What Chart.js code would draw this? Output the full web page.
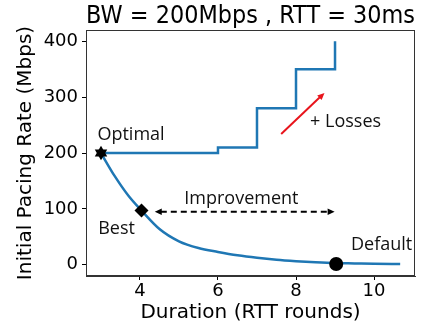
<!DOCTYPE html>
<html><head><meta charset="utf-8">
<script src="https://cdn.jsdelivr.net/npm/chart.js@4"></script>
<style>html,body{margin:0;padding:0;background:#fff}#wrap{width:432px;height:327px}</style>
</head><body><div id="wrap"><canvas id="c" width="432" height="327"></canvas></div>
<script>
// ---- data ----
const stepX = [3, 6, 7, 8, 9];
const stepY = [200, 210, 280, 350, 400];
const curveX = [3, 3.35, 3.7, 4.04, 4.5, 5, 5.5, 6, 6.5, 7, 7.5, 8, 8.5, 9, 9.5, 10, 10.67];
const curveY = [200, 159, 124, 97, 64, 42, 30, 23, 17, 12.5, 9, 6.5, 4.5, 3, 2.5, 2, 1.5];
const optimalPt = [3, 200];
const bestPt = [4.04, 97];
const defaultPt = [9.03, 1.5];
const xTicks = [4, 6, 8, 10];
const yTicks = [0, 100, 200, 300, 400];
const xRange = [2.617, 11.05];
const yRange = [-20, 420];
const noteText = ['Optimal', 'Best', 'Default', 'Improvement', '+ Losses'];
const noteX = [2.91, 2.93, 9.41, 6.6, 9.27];
const noteY = [224, 55.6, 25.7, 108, 246];
const noteAlign = ['left', 'left', 'left', 'center', 'center'];
const improveArrow = [[4.38, 95], [8.99, 95]];
const lossArrow = [[7.62, 234], [8.73, 307.5]];

const pts = (xs, ys) => xs.map((x, i) => ({x, y: ys[i]}));

// hexagram marker
const star = document.createElement('canvas');
star.width = 18; star.height = 18;
(function(){
  const g = star.getContext('2d');
  g.fillStyle = '#000';
  const cx = 9, cy = 9, r = 7.2;
  for (const off of [-Math.PI/2, Math.PI/2]) {
    g.beginPath();
    for (let k = 0; k < 3; k++) {
      const a = off + k * 2 * Math.PI / 3;
      const px = cx + r * Math.cos(a), py = cy + r * Math.sin(a);
      k ? g.lineTo(px, py) : g.moveTo(px, py);
    }
    g.closePath(); g.fill();
  }
})();

function arrowHead(ctx, x1, y1, x2, y2, len, w) {
  const a = Math.atan2(y2 - y1, x2 - x1);
  ctx.beginPath();
  ctx.moveTo(x2, y2);
  ctx.lineTo(x2 - len*Math.cos(a) + w*Math.sin(a), y2 - len*Math.sin(a) - w*Math.cos(a));
  ctx.lineTo(x2 - len*Math.cos(a) - w*Math.sin(a), y2 - len*Math.sin(a) + w*Math.cos(a));
  ctx.closePath(); ctx.fill();
}

const decor = {
  id: 'decor',
  beforeDatasetsDraw(chart) {
    const {ctx, chartArea: a} = chart;
    ctx.save();
    ctx.strokeStyle = '#333'; ctx.lineWidth = 1;
    ctx.strokeRect(a.left + 0.5, a.top + 0.5, a.right - a.left - 1, a.bottom - a.top - 1);
    ctx.restore();
  },
  afterDatasetsDraw(chart) {
    const {ctx, scales: {x, y}} = chart;
    ctx.save();
    // improvement double arrow
    const ix1 = x.getPixelForValue(improveArrow[0][0]), iy1 = y.getPixelForValue(improveArrow[0][1]);
    const ix2 = x.getPixelForValue(improveArrow[1][0]), iy2 = y.getPixelForValue(improveArrow[1][1]);
    ctx.strokeStyle = '#000'; ctx.fillStyle = '#000'; ctx.lineWidth = 2;
    ctx.setLineDash([6, 4]);
    ctx.beginPath(); ctx.moveTo(ix1 + 6, iy1); ctx.lineTo(ix2 - 6, iy2); ctx.stroke();
    ctx.setLineDash([]);
    arrowHead(ctx, ix2, iy2, ix1, iy1, 7, 3.2);
    arrowHead(ctx, ix1, iy1, ix2, iy2, 7, 3.2);
    // losses arrow
    const lx1 = x.getPixelForValue(lossArrow[0][0]), ly1 = y.getPixelForValue(lossArrow[0][1]);
    const lx2 = x.getPixelForValue(lossArrow[1][0]), ly2 = y.getPixelForValue(lossArrow[1][1]);
    ctx.strokeStyle = '#e8141c'; ctx.fillStyle = '#e8141c'; ctx.lineWidth = 2;
    const ang = Math.atan2(ly2 - ly1, lx2 - lx1);
    ctx.beginPath(); ctx.moveTo(lx1, ly1); ctx.lineTo(lx2 - 5*Math.cos(ang), ly2 - 5*Math.sin(ang)); ctx.stroke();
    arrowHead(ctx, lx1, ly1, lx2, ly2, 7, 3.2);
    // texts
    ctx.fillStyle = '#111';
    ctx.font = '18px "Open Sans"';
    ctx.textBaseline = 'alphabetic';
    noteText.forEach((t, i) => {
      ctx.textAlign = noteAlign[i];
      ctx.fillText(t, x.getPixelForValue(noteX[i]), y.getPixelForValue(noteY[i]));
    });
    ctx.restore();
  }
};

const blue = '#1f77b4';
new Chart(document.getElementById('c'), {
  type: 'scatter',
  data: {
    datasets: [
      {data: [{x: optimalPt[0], y: optimalPt[1]}], pointStyle: star, pointRadius: 9},
      {data: [{x: bestPt[0], y: bestPt[1]}], pointStyle: 'rectRot', pointRadius: 7, backgroundColor: '#000', borderColor: '#000', borderWidth: 0},
      {data: [{x: defaultPt[0], y: defaultPt[1]}], pointStyle: 'circle', pointRadius: 7, backgroundColor: '#000', borderColor: '#000', borderWidth: 0},
      {data: pts(stepX, stepY), showLine: true, stepped: 'before', borderColor: blue, borderWidth: 2.5, pointRadius: 0, fill: false},
      {data: pts(curveX, curveY), showLine: true, cubicInterpolationMode: 'monotone', borderColor: blue, borderWidth: 2.5, pointRadius: 0, fill: false}
    ]
  },
  options: {
    responsive: false, animation: false, devicePixelRatio: 1,
    layout: {padding: {left: 0, right: 17, top: 0, bottom: 0}},
    plugins: {
      legend: {display: false}, tooltip: {enabled: false},
      title: {display: true, text: 'BW = 200Mbps , RTT = 30ms', fullSize: false, color: '#000',
        font: {family: 'DejaVu Sans', size: 24, weight: 'normal', lineHeight: 1.125}, padding: {top: 3, bottom: 0}}
    },
    scales: {
      x: {
        type: 'linear', min: xRange[0], max: xRange[1],
        afterFit: s => { s.height = 51; },
        afterBuildTicks: s => { s.ticks = xTicks.map(v => ({value: v})); },
        grid: {drawOnChartArea: false, drawTicks: true, tickLength: 4, tickColor: '#000'},
        border: {display: true, color: '#333'},
        ticks: {font: {family: 'DejaVu Sans', size: 18}, color: '#000', padding: 1, maxRotation: 0},
        title: {display: true, text: 'Duration (RTT rounds)', color: '#000', font: {family: 'DejaVu Sans', size: 20}, padding: {top: 0, bottom: 2}}
      },
      y: {
        type: 'linear', min: yRange[0], max: yRange[1],
        afterFit: s => { s.width = 86; },
        afterBuildTicks: s => { s.ticks = yTicks.map(v => ({value: v})); },
        grid: {drawOnChartArea: false, drawTicks: true, tickLength: 4, tickColor: '#000'},
        border: {display: true, color: '#333'},
        ticks: {font: {family: 'DejaVu Sans', size: 18}, color: '#000', padding: 4},
        title: {display: true, text: 'Initial Pacing Rate (Mbps)', color: '#000', font: {family: 'DejaVu Sans', size: 20}, padding: {top: 14, bottom: 0}}
      }
    }
  },
  plugins: [decor]
});
</script>
</body></html>
